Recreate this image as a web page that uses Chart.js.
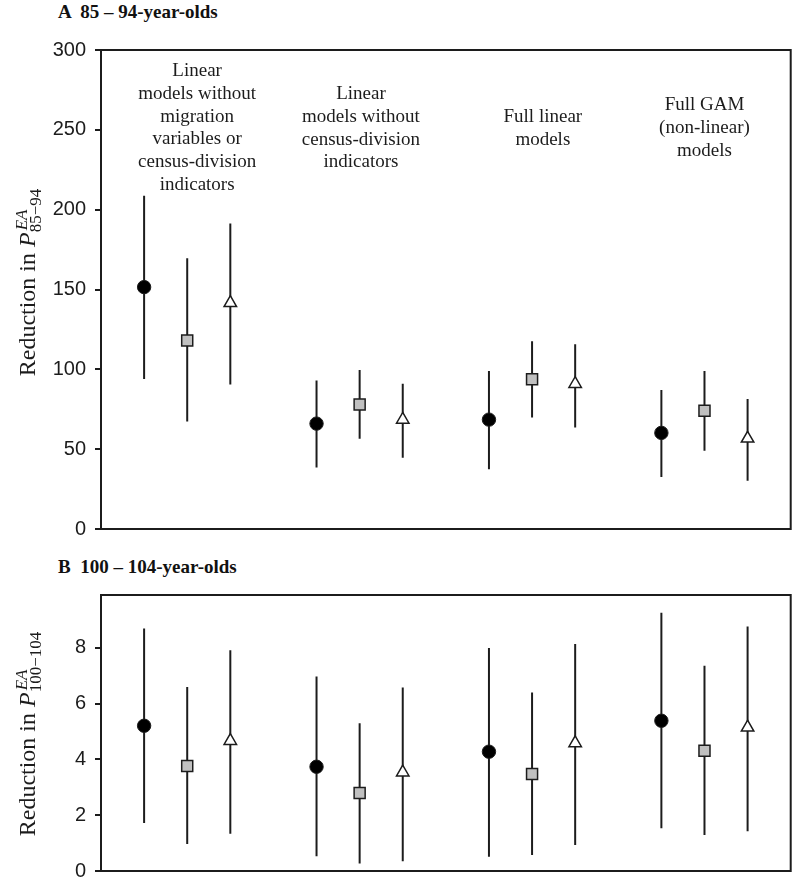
<!DOCTYPE html>
<html>
<head>
<meta charset="utf-8">
<title>Reduction in P EA</title>
<script src="https://cdn.jsdelivr.net/npm/chart.js@4.4.1/dist/chart.umd.min.js"></script>
<style>
  body { margin: 0; background: #fff; }
  #wrap { position: relative; width: 800px; height: 892px; }
  .panel { position: absolute; left: 0; }
  .head { position: absolute; left: 58px; font: bold 19px "Liberation Serif", serif; color: #111; white-space: pre; }
</style>
</head>
<body>
<div id="wrap">
  <div class="head" style="top:1px">A  85 – 94-year-olds</div>
  <canvas id="chartA" class="panel" style="top:0" width="800" height="550"></canvas>
  <div class="head" style="top:556px">B  100 – 104-year-olds</div>
  <canvas id="chartB" class="panel" style="top:550px" width="800" height="342"></canvas>
</div>
<script>
// model groups (left to right) and the three estimates shown in each group
const groups = ['Linear, no migration / census-division', 'Linear, no census-division', 'Full linear', 'Full GAM'];
const groupLabels = [
  ['Linear', 'models without', 'migration', 'variables or', 'census-division', 'indicators'],
  ['Linear', 'models without', 'census-division', 'indicators'],
  ['Full linear', 'models'],
  ['Full GAM', '(non-linear)', 'models']
];

// panel A: 85-94-year-olds
const aCircle = [151.5, 66, 68.5, 60.2];
const aCircleLo = [94, 38.5, 37.5, 32.5];
const aCircleHi = [208.7, 93, 99, 87];
const aSquare = [118, 78, 93.8, 74];
const aSquareLo = [67.3, 56.5, 69.8, 49];
const aSquareHi = [169.6, 99.6, 117.6, 99];
const aTriangle = [141.6, 68.5, 90.9, 56.7];
const aTriangleLo = [90.5, 44.7, 63.5, 30.2];
const aTriangleHi = [191.3, 90.9, 115.7, 81.4];

// panel B: 100-104-year-olds
const bCircle = [5.21, 3.74, 4.28, 5.39];
const bCircleLo = [1.72, 0.53, 0.51, 1.53];
const bCircleHi = [8.7, 6.98, 8.0, 9.26];
const bSquare = [3.77, 2.8, 3.48, 4.31];
const bSquareLo = [0.97, 0.27, 0.57, 1.29];
const bSquareHi = [6.6, 5.3, 6.4, 7.36];
const bTriangle = [4.67, 3.54, 4.59, 5.15];
const bTriangleLo = [1.34, 0.35, 0.93, 1.43];
const bTriangleHi = [7.92, 6.58, 8.14, 8.77];

const ink = '#1c1c1c';

// x position on the linear scale: 4 slots per group, series in slots 1..3
function xPos(g, s) { return g * 4 + s + 1; }

function points(vals, s) {
  return vals.map((v, g) => ({ x: xPos(g, s), y: v }));
}

function whiskers(lo, hi, s) {
  const out = [];
  lo.forEach((l, g) => {
    out.push({ x: xPos(g, s), y: l }, { x: xPos(g, s), y: hi[g] }, { x: xPos(g, s), y: null });
  });
  return out;
}

const markerStyles = [
  { pointStyle: 'circle', radius: 6.7, bg: '#000', bw: 1 },
  { pointStyle: 'rect', radius: 7.8, bg: '#c0c0c0', bw: 1.5 },
  { pointStyle: 'triangle', radius: 7.2, bg: '#fff', bw: 1.5 }
];

function buildDatasets(series) {
  const ds = [];
  series.forEach((se, s) => {
    const m = markerStyles[s];
    ds.push({
      data: points(se.mean, s),
      pointStyle: m.pointStyle,
      pointRadius: m.radius,
      backgroundColor: m.bg,
      borderColor: ink,
      borderWidth: m.bw,
      order: 0
    });
    ds.push({
      type: 'line',
      data: whiskers(se.lo, se.hi, s),
      showLine: true,
      spanGaps: false,
      pointRadius: 0,
      borderColor: ink,
      borderWidth: 2,
      order: 1
    });
  });
  return ds;
}

const boxPlugin = {
  id: 'box',
  afterDraw(chart) {
    const a = chart.chartArea, ctx = chart.ctx;
    ctx.save();
    ctx.strokeStyle = ink;
    ctx.lineWidth = 2;
    ctx.strokeRect(a.left, a.top, a.right - a.left, a.bottom - a.top);
    ctx.restore();
  }
};

const groupTextPlugin = {
  id: 'groupText',
  afterDraw(chart, args, opts) {
    if (!opts.lines) return;
    const ctx = chart.ctx, a = chart.chartArea, xs = chart.scales.x;
    ctx.save();
    ctx.fillStyle = ink;
    ctx.font = '19px "Liberation Serif", serif';
    ctx.textAlign = 'center';
    ctx.textBaseline = 'middle';
    opts.lines.forEach((lines, g) => {
      const cx = xs.getPixelForValue(opts.anchors[g]);
      lines.forEach((t, i) => {
        ctx.fillText(t, cx, a.top + opts.firstLine[g] + i * 22.8);
      });
    });
    ctx.restore();
  }
};

const yTitlePlugin = {
  id: 'yTitle',
  afterDraw(chart, args, opts) {
    const ctx = chart.ctx, a = chart.chartArea;
    ctx.save();
    ctx.translate(opts.x, (a.top + a.bottom) / 2 + opts.dy);
    ctx.rotate(-Math.PI / 2);
    ctx.fillStyle = ink;
    ctx.textBaseline = 'alphabetic';
    ctx.textAlign = 'left';
    const fMain = '24px "Liberation Serif", serif';
    const fItal = 'italic 24px "Liberation Serif", serif';
    const fSup = 'italic 17px "Liberation Serif", serif';
    const fSub = '17px "Liberation Serif", serif';
    const main = 'Reduction in ';
    ctx.font = fMain; const w1 = ctx.measureText(main).width;
    ctx.font = fItal; const wP = ctx.measureText('P').width;
    ctx.font = fSup; const wSup = ctx.measureText('EA').width;
    ctx.font = fSub; const wSub = ctx.measureText(opts.sub).width;
    const total = w1 + wP + Math.max(wSup, wSub);
    let x = -total / 2;
    ctx.font = fMain; ctx.fillText(main, x, 0); x += w1;
    ctx.font = fItal; ctx.fillText('P', x, 0); x += wP;
    ctx.font = fSup; ctx.fillText('EA', x + 2, -8);
    ctx.font = fSub; ctx.fillText(opts.sub, x, 6);
    ctx.restore();
  }
};

function makeChart(id, series, yMax, step, pad, extra) {
  return new Chart(document.getElementById(id), {
    type: 'scatter',
    data: { datasets: buildDatasets(series) },
    options: {
      responsive: false,
      animation: false,
      layout: { padding: pad },
      scales: {
        x: { type: 'linear', min: 0, max: groups.length * 4, display: false },
        y: {
          min: 0,
          max: yMax,
          afterFit(scale) { scale.width = 101; },
          ticks: { stepSize: step, includeBounds: false, padding: 9, color: ink, font: { family: '"Liberation Sans", Arial, sans-serif', size: 20 } },
          grid: { drawOnChartArea: false, drawTicks: true, tickLength: 6, color: ink, lineWidth: 2 },
          border: { display: true, color: ink, width: 2 }
        }
      },
      plugins: {
        legend: { display: false },
        tooltip: { enabled: false },
        groupText: extra.groupText || {},
        yTitle: extra.yTitle
      }
    },
    plugins: [boxPlugin, groupTextPlugin, yTitlePlugin]
  });
}

makeChart('chartA', [
  { mean: aCircle, lo: aCircleLo, hi: aCircleHi },
  { mean: aSquare, lo: aSquareLo, hi: aSquareHi },
  { mean: aTriangle, lo: aTriangleLo, hi: aTriangleHi }
], 300, 50, { left: 0, right: 7, top: 50, bottom: 17 }, {
  groupText: { lines: groupLabels, anchors: [2.23, 6.03, 10.25, 14.0], firstLine: [21, 44, 67, 55] },
  yTitle: { x: 35, dy: -7, sub: '85\u221294' }
});

makeChart('chartB', [
  { mean: bCircle, lo: bCircleLo, hi: bCircleHi },
  { mean: bSquare, lo: bSquareLo, hi: bSquareHi },
  { mean: bTriangle, lo: bTriangleLo, hi: bTriangleHi }
], 9.9, 2, { left: 0, right: 8, top: 45, bottom: 21 }, {
  yTitle: { x: 35, dy: 1, sub: '100\u2212104' }
});
</script>
</body>
</html>
